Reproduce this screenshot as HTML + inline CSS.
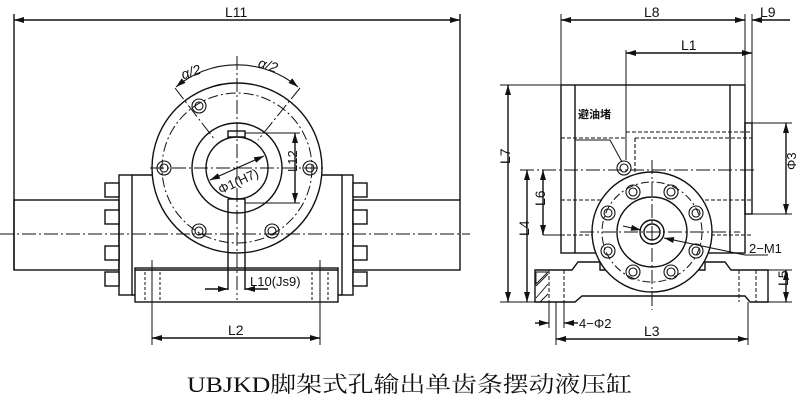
<!DOCTYPE html>
<html><head><meta charset="utf-8"><style>
html,body{margin:0;padding:0;background:#fff;}
svg{display:block}
text{font-family:"Liberation Sans","Noto Sans CJK SC",sans-serif;fill:#111}
</style></head><body>
<svg width="800" height="407" viewBox="0 0 800 407" xmlns="http://www.w3.org/2000/svg">
<defs>
<marker id="a" markerWidth="10" markerHeight="6" refX="10" refY="3" orient="auto-start-reverse" markerUnits="userSpaceOnUse"><path d="M0,0 L10,3 L0,6z" fill="#111"/></marker>
</defs>
<g stroke="#111" stroke-width="1.4" fill="none">
<!-- LEFT VIEW -->
<line x1="14" y1="14" x2="14" y2="270"/>
<line x1="460" y1="14" x2="460" y2="200"/>
<line x1="14" y1="20" x2="460" y2="20" marker-start="url(#a)" marker-end="url(#a)"/>
<rect x="14" y="200" width="105" height="70"/>
<rect x="353" y="200" width="107" height="70"/>
<rect x="119" y="175" width="13" height="120"/>
<rect x="342" y="175" width="11" height="120"/>
<line x1="132" y1="175" x2="155" y2="175"/><line x1="319" y1="175" x2="342" y2="175"/>
<line x1="132" y1="295" x2="342" y2="295"/>
<rect x="105" y="183" width="14" height="14" fill="#fff"/><rect x="105" y="210" width="14" height="14" fill="#fff"/>
<rect x="105" y="246" width="14" height="14" fill="#fff"/><rect x="105" y="272" width="14" height="14" fill="#fff"/>
<rect x="353" y="183" width="14" height="14" fill="#fff"/><rect x="353" y="210" width="14" height="14" fill="#fff"/>
<rect x="353" y="246" width="14" height="14" fill="#fff"/><rect x="353" y="272" width="14" height="14" fill="#fff"/>
<rect x="135" y="268" width="203" height="34" fill="#fff"/>
<line x1="135" y1="270" x2="338" y2="270"/>
<g stroke-dasharray="3,2" stroke-width="1">
<line x1="145" y1="272" x2="145" y2="300"/><line x1="160" y1="272" x2="160" y2="300"/>
<line x1="312" y1="272" x2="312" y2="300"/><line x1="328" y1="272" x2="328" y2="300"/>
</g>
<line x1="152" y1="260" x2="152" y2="345" stroke-width="1"/><line x1="320" y1="260" x2="320" y2="345" stroke-width="1"/>
<line x1="152" y1="338" x2="320" y2="338" marker-start="url(#a)" marker-end="url(#a)"/>
<circle cx="237" cy="168" r="85" fill="#fff"/>
<circle cx="237" cy="168" r="75" stroke-dasharray="10,3,2,3" stroke-width="1"/>
<circle cx="237" cy="168" r="45"/>
<circle cx="237" cy="168" r="31"/>
<rect x="228" y="131" width="17" height="6"/>
<line x1="228" y1="199" x2="228" y2="290"/><line x1="245" y1="199" x2="245" y2="290"/>
<line x1="228" y1="199" x2="245" y2="199"/>
<g stroke-width="1.1">
<circle cx="164" cy="168" r="7"/><circle cx="164" cy="168" r="4"/>
<circle cx="310" cy="168" r="7"/><circle cx="310" cy="168" r="4"/>
<circle cx="199" cy="106" r="7"/><circle cx="199" cy="106" r="4"/>
<circle cx="199" cy="231" r="7"/><circle cx="199" cy="231" r="4"/>
<circle cx="272" cy="231" r="7"/><circle cx="272" cy="231" r="4"/>
</g>
<g stroke-dasharray="14,3,2,3" stroke-width="1">
<line x1="237" y1="56" x2="237" y2="300"/>
<line x1="0" y1="234" x2="470" y2="234"/>
<line x1="150" y1="168" x2="325" y2="168"/>
<line x1="175" y1="88" x2="215" y2="140"/>
<line x1="300" y1="88" x2="258" y2="140"/>
</g>
<path d="M176,87 A95,95 0 0 1 298,87" marker-start="url(#a)" marker-end="url(#a)" stroke-width="1.1"/>
<line x1="210" y1="180" x2="264" y2="156" marker-start="url(#a)" marker-end="url(#a)" stroke-width="1.1"/>
<line x1="245" y1="133" x2="300" y2="133" stroke-width="1"/><line x1="245" y1="203" x2="300" y2="203" stroke-width="1"/>
<line x1="295" y1="133" x2="295" y2="203" marker-start="url(#a)" marker-end="url(#a)"/>
<line x1="205" y1="289" x2="228" y2="289" marker-end="url(#a)"/>
<line x1="268" y1="289" x2="245" y2="289" marker-end="url(#a)"/>

<!-- RIGHT VIEW -->
<line x1="561" y1="14" x2="561" y2="85" stroke-width="1"/>
<line x1="745" y1="14" x2="745" y2="85" stroke-width="1"/>
<line x1="752" y1="14" x2="752" y2="123" stroke-width="1"/>
<line x1="561" y1="20" x2="745" y2="20" marker-start="url(#a)" marker-end="url(#a)"/>
<line x1="790" y1="20" x2="752" y2="20" marker-end="url(#a)"/>
<line x1="626" y1="50" x2="626" y2="160" stroke-width="1"/>
<line x1="626" y1="53" x2="752" y2="53" marker-start="url(#a)" marker-end="url(#a)"/>
<rect x="561" y="85" width="184" height="168"/>
<line x1="575" y1="85" x2="575" y2="253"/><line x1="730" y1="85" x2="730" y2="253"/>
<rect x="745" y="123" width="7" height="91"/>
<line x1="752" y1="123" x2="792" y2="123" stroke-width="1"/><line x1="752" y1="214" x2="792" y2="214" stroke-width="1"/>
<line x1="786" y1="123" x2="786" y2="214" marker-start="url(#a)" marker-end="url(#a)"/>
<g stroke-dasharray="4,2" stroke-width="1.1">
<line x1="561" y1="138" x2="625" y2="138"/>
<line x1="626" y1="132" x2="752" y2="132"/>
<line x1="635" y1="138" x2="752" y2="138"/>
<line x1="635" y1="138" x2="635" y2="200"/>
<line x1="561" y1="200" x2="752" y2="200"/>
<line x1="561" y1="235" x2="752" y2="235"/>
</g>
<path d="M535,302 L535,270 L572,270 L578,262 L600,262 L600,270 L705,270 L705,262 L725,262 L731,270 L768,270 L768,302 L750,302 L745,296 L582,296 L575,302 Z" fill="#fff"/>
<path d="M536,272 L548,272 L536,284 Z M536,286 L548,274 M536,298 L548,284 M540,302 L548,294" stroke-width="0.9"/>
<g stroke-dasharray="4,2" stroke-width="1">
<line x1="549" y1="270" x2="549" y2="302"/><line x1="564" y1="270" x2="564" y2="302"/>
<line x1="739" y1="270" x2="739" y2="302"/><line x1="756" y1="270" x2="756" y2="302"/>
</g>
<circle cx="652" cy="232" r="60" fill="#fff"/>
<circle cx="652" cy="232" r="50" stroke-dasharray="8,3,2,3" stroke-width="1"/>
<circle cx="652" cy="232" r="35"/>
<circle cx="652" cy="232" r="12"/>
<circle cx="652" cy="232" r="8"/>
<g stroke-width="1.1">
<circle cx="633" cy="192" r="7"/><circle cx="633" cy="192" r="4"/>
<circle cx="671" cy="192" r="7"/><circle cx="671" cy="192" r="4"/>
<circle cx="608" cy="213" r="7"/><circle cx="608" cy="213" r="4"/>
<circle cx="696" cy="213" r="7"/><circle cx="696" cy="213" r="4"/>
<circle cx="608" cy="251" r="7"/><circle cx="608" cy="251" r="4"/>
<circle cx="696" cy="251" r="7"/><circle cx="696" cy="251" r="4"/>
<circle cx="633" cy="272" r="7"/><circle cx="633" cy="272" r="4"/>
<circle cx="671" cy="272" r="7"/><circle cx="671" cy="272" r="4"/>
<circle cx="624" cy="168" r="7"/><circle cx="624" cy="168" r="4"/>
</g>
<line x1="575" y1="140" x2="610" y2="140" stroke-width="1"/>
<line x1="610" y1="140" x2="622" y2="162" stroke-width="1"/>
<g stroke-dasharray="14,3,2,3" stroke-width="1">
<line x1="652" y1="160" x2="652" y2="310"/>
<line x1="580" y1="232" x2="740" y2="232"/>
<line x1="520" y1="170" x2="755" y2="170"/>
</g>
<line x1="623" y1="226" x2="641" y2="230" marker-end="url(#a)" stroke-width="1.1"/>
<line x1="745" y1="255" x2="664" y2="238" marker-end="url(#a)" stroke-width="1.1"/>
<line x1="745" y1="255" x2="768" y2="255" stroke-width="1.1"/>
<line x1="500" y1="85" x2="561" y2="85" stroke-width="1"/>
<line x1="500" y1="302" x2="535" y2="302" stroke-width="1"/>
<line x1="508" y1="85" x2="508" y2="302" marker-start="url(#a)" marker-end="url(#a)"/>
<line x1="527" y1="170" x2="527" y2="302" marker-start="url(#a)" marker-end="url(#a)"/>
<line x1="543" y1="170" x2="543" y2="235" marker-start="url(#a)" marker-end="url(#a)"/>
<line x1="543" y1="235" x2="561" y2="235" stroke-width="1"/>
<line x1="768" y1="270" x2="792" y2="270" stroke-width="1"/><line x1="768" y1="302" x2="792" y2="302" stroke-width="1"/>
<line x1="786" y1="270" x2="786" y2="302" marker-start="url(#a)" marker-end="url(#a)"/>
<line x1="556" y1="302" x2="556" y2="345" stroke-width="1"/><line x1="748" y1="302" x2="748" y2="345" stroke-width="1"/>
<line x1="549" y1="302" x2="549" y2="328" stroke-width="1"/><line x1="564" y1="302" x2="564" y2="328" stroke-width="1"/>
<line x1="556" y1="339" x2="748" y2="339" marker-start="url(#a)" marker-end="url(#a)"/>
<line x1="535" y1="323" x2="549" y2="323" marker-end="url(#a)"/>
<line x1="578" y1="323" x2="564" y2="323" marker-end="url(#a)"/>
</g>
<g font-size="14">
<text x="225" y="17">L11</text>
<text x="181" y="77" transform="rotate(-18 190 72)" font-style="italic">α/2</text>
<text x="258" y="70" transform="rotate(18 268 66)" font-style="italic">α/2</text>
<text x="216" y="187" transform="rotate(-25 235 180)" font-size="13">Φ1(H7)</text>
<text x="291" y="178" transform="rotate(-90 291 172)" font-size="13">L12</text>
<text x="250" y="286" font-size="13">L10(Js9)</text>
<text x="228" y="335">L2</text>
<text x="644" y="17">L8</text>
<text x="760" y="17">L9</text>
<text x="681" y="50">L1</text>
<text x="578" y="118" font-size="11" font-weight="bold">避油堵</text>
<text x="790" y="176" transform="rotate(-90 790 170)" font-size="13">Φ3</text>
<text x="505" y="169" transform="rotate(-90 505 164)">L7</text>
<text x="524" y="241" transform="rotate(-90 524 236)">L4</text>
<text x="540" y="211" transform="rotate(-90 540 206)">L6</text>
<text x="783" y="291" transform="rotate(-90 783 286)">L5</text>
<text x="749" y="253" font-size="13">2−M1</text>
<text x="579" y="328" font-size="13">4−Φ2</text>
<text x="644" y="336">L3</text>
</g>
<text x="187" y="392" font-size="22" textLength="445" lengthAdjust="spacingAndGlyphs" style="font-family:'Liberation Serif','Noto Serif CJK SC',serif">UBJKD脚架式孔输出单齿条摆动液压缸</text>
</svg>
</body></html>
